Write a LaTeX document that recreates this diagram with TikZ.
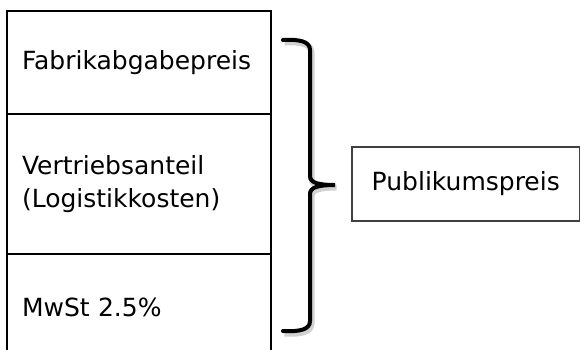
\documentclass[tikz,border=0pt]{standalone}
\usepackage{fontspec}
\setmainfont{DejaVu Sans}
\usetikzlibrary{positioning}
\tikzset{
  pricerow/.style={draw, line width=2.5pt, outer sep=0pt, minimum width=264pt,
                   text width=234pt, inner xsep=15pt, inner ysep=0pt,
                   align=left, font=\fontsize{25}{33}\selectfont},
  pricebox/.style={draw=black!75, line width=1.3pt, outer sep=0pt,
                   minimum width=227.5pt, minimum height=74pt, inner xsep=19.5pt,
                   font=\fontsize{25}{33}\selectfont},
  bracket/.style={line width=4pt, line cap=round,
                  preaction={draw=black!18, line width=6pt,
                             transform canvas={xshift=1.5pt, yshift=-2.5pt}}},
}

\begin{document}
\begin{tikzpicture}[x=1pt, y=-1pt]
  \useasboundingbox (0,0) rectangle (581,349);
  % price components, stacked
  \node[pricerow, minimum height=103pt, anchor=north west] (fab) at (7,11)
    {Fabrikabgabepreis};
  \node[pricerow, minimum height=140pt, below=0pt of fab] (vertrieb)
    {Vertriebsanteil\\(Logistikkosten)};
  \node[pricerow, minimum height=107pt, below=0pt of vertrieb] (mwst)
    {MwSt 2.5\%};

  \node[pricebox, anchor=west] (publikum) at (352,184) {Publikumspreis};

  % curly bracket
  \coordinate (bracetop) at (283,40);
  \coordinate (bracebot) at (283,331);
  \coordinate (bracetip) at (335,185);
  \draw[bracket] (bracetop) .. controls +(18,-1) and +(0,-8) .. (310,50)
    -- (310,176) .. controls +(0,7) and +(-16,0) .. (bracetip)
    .. controls +(-16,0) and +(0,-7) .. (310,194)
    -- (310,321) .. controls +(0,8) and +(18,1) .. (bracebot);
\end{tikzpicture}
\end{document}
